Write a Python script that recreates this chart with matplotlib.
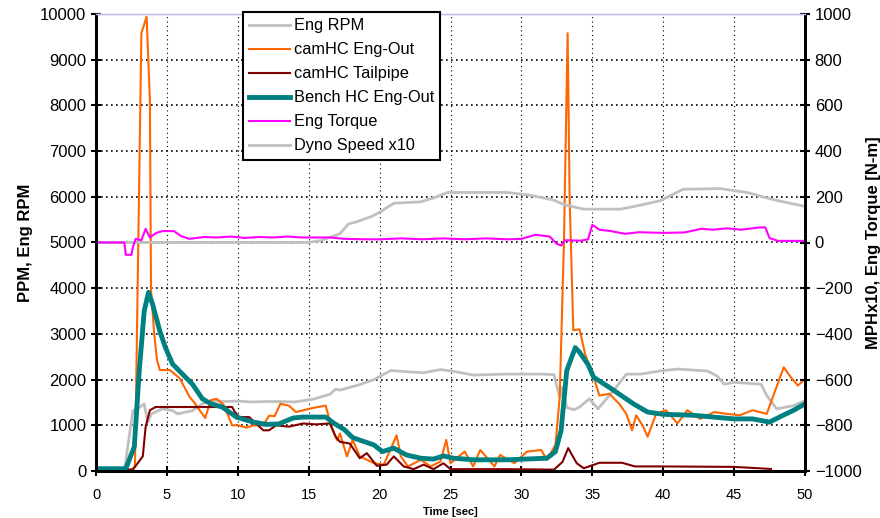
import matplotlib.pyplot as plt

plt.rcParams['font.family'] = ['Liberation Sans', 'DejaVu Sans']

# --- data ---
rpm_t = [0, 2.0, 2.6, 3.0, 3.4, 3.65, 3.9, 4.7, 5.4, 5.75, 6.8, 7.5, 8.1, 9, 10, 11, 12, 13, 14,
         15.3, 16.5, 16.9, 17.2, 18.5, 19.6, 20.8, 22, 23.1, 24.3, 25.4, 26.6, 29, 31.4, 32.3,
         32.7, 32.9, 33.2, 33.7, 34.1, 34.8, 35.4, 36.5, 37.4, 38.4, 39.8, 41, 43.1, 43.8,
         44.3, 45, 46.9, 47.3, 48, 49.2, 50]
rpm_v = [0, 0, 1320, 1380, 1470, 1070, 1250, 1360, 1320, 1250, 1320, 1470, 1540, 1520, 1530,
         1510, 1520, 1520, 1510, 1570, 1680, 1790, 1770, 1880, 2000, 2200, 2170, 2150, 2220,
         2170, 2100, 2120, 2120, 2110, 1610, 1830, 1390, 1340, 1400, 1580, 1360, 1760, 2120,
         2120, 2190, 2230, 2190, 2080, 1900, 1940, 1900, 1650, 1360, 1430, 1540]

eo_t = [0, 2.5, 2.75, 3.2, 3.57, 3.8, 3.88, 4.1, 4.3, 4.5, 5.2, 5.9, 6.6, 6.9, 7.7, 8.1, 8.5,
        9.0, 9.6, 10.0, 10.6, 11.1, 11.8, 12.2, 12.6, 13.0, 13.6, 14.1, 15.3, 16.2, 16.6,
        17.0, 17.2, 17.7, 18.1, 18.6, 19.6, 20.3, 21.2, 21.5, 22, 22.9, 23.6, 24.3, 24.7,
        25, 26, 26.6, 27.1, 28.1, 28.5, 29.5, 30.4, 31.4, 31.8, 32.4, 32.7, 33.0, 33.26,
        33.4, 33.66, 34.1, 34.5, 35.1, 35.5, 36.2, 36.9, 37.4, 37.8, 38.1, 38.6, 38.9, 39.5,
        40.2, 41, 41.7, 42.6, 43.6, 44.5, 45.4, 46.3, 47.3, 47.9, 48.5, 49, 49.5, 50]
eo_v = [30, 30, 100, 9580, 9940, 8120, 3960, 3020, 2430, 2210, 2210, 2030, 1620, 1510, 1160,
        1550, 1580, 1450, 1000, 1000, 950, 1000, 1000, 1210, 1200, 1470, 1430, 1290, 1380,
        1430, 965, 675, 820, 320, 680, 320, 170, 140, 780, 320, 100, 245, 100, 210, 680,
        170, 425, 100, 460, 100, 350, 170, 425, 460, 245, 570, 1610, 5000, 9580, 6000,
        3080, 3100, 2550, 2050, 1650, 1690, 1470, 1250, 890, 1220, 965, 750, 1250, 1330,
        1040, 1330, 1140, 1290, 1250, 1220, 1330, 1250, 1760, 2270, 2050, 1870, 2010]

tp_t = [0, 2.6, 3.3, 3.5, 3.8, 4.2, 9.6, 9.8, 10.1, 10.8, 11.8, 12.2, 12.7, 13.6, 14.6, 15.5,
        16.5, 16.9, 17.2, 17.9, 18.6, 19.1, 19.8, 20.5, 21, 21.7, 22.4, 23.1, 23.8, 24.5, 25,
        26.6, 29, 32.3, 32.9, 33.3, 33.9, 34.4, 35.5, 37.1, 38, 39.8, 45, 47.6]
tp_v = [30, 30, 320, 965, 1330, 1400, 1400, 1290, 1180, 1180, 890, 890, 1000, 970, 1040,
        1020, 1040, 750, 640, 600, 280, 390, 115, 140, 320, 100, 40, 140, 40, 170, 40, 40,
        40, 30, 200, 500, 170, 60, 180, 180, 100, 100, 90, 45]

bench_t = [0, 2.1, 2.7, 3.05, 3.4, 3.7, 4.0, 4.5, 4.9, 5.4, 6.1, 6.8, 7.5, 8.1, 8.9, 9.9, 11.1,
           12.0, 12.9, 13.9, 14.6, 16.2, 16.8, 17.5, 18.1, 19.6, 20.2, 21, 21.9, 22.9, 23.8,
           24.5, 25.2, 26.6, 29, 31.8, 32.4, 32.8, 33.2, 33.8, 34.1, 34.7, 35.1, 36.2, 37.9,
           38.9, 40, 42.1, 45, 46.3, 47.5, 48.2, 49.2, 50]
bench_v = [50, 50, 530, 2190, 3500, 3910, 3640, 3060, 2700, 2340, 2120, 1900, 1580, 1470, 1400,
           1180, 1070, 1020, 1030, 1160, 1180, 1180, 1040, 910, 730, 570, 425, 500, 350, 280,
           260, 330, 280, 245, 245, 280, 425, 890, 2200, 2700, 2600, 2330, 2050, 1830, 1470,
           1290, 1240, 1220, 1140, 1140, 1070, 1180, 1330, 1470]

torque_t = [0, 2.0, 2.1, 2.5, 2.6, 2.8, 3.2, 3.5, 3.8, 4.25, 4.7, 5.5, 6.0, 6.6, 7.6, 8.5, 9.5,
            10.5, 11.5, 12.5, 13.5, 14.5, 15.5, 16.5, 17.5, 19, 20, 21.5, 23, 24.5, 26, 27.5,
            29, 30, 31, 32, 32.5, 32.8, 33.1, 34.2, 34.7, 35.0, 35.5, 36.3, 37.3, 38.3, 40,
            41.5, 42.7, 43.5, 44.5, 45.5, 46.8, 47.2, 47.5, 48.1, 50]
torque_v = [0, 0, -54, -54, -20, 16, 10, 60, 22, 42, 50, 50, 28, 16, 24, 22, 26, 20, 24, 22, 26,
            22, 22, 22, 16, 14, 14, 18, 14, 18, 14, 18, 14, 16, 34, 26, -6, -13, 10, 8, 14, 77,
            56, 50, 38, 45, 42, 44, 60, 56, 62, 56, 66, 66, 19, 7, 7]

dyno_t = [0, 15, 15.9, 17.2, 17.8, 18.4, 19.4, 20, 21, 22.9, 23.9, 24.8, 29, 30.6, 32.2, 33.1,
          34.4, 37, 38.2, 39.8, 41.4, 44, 45.9, 47.8, 50]
dyno_v = [0, 0, 9, 38, 81, 91, 113, 132, 172, 178, 197, 219, 219, 207, 187, 164, 146, 146, 161,
          183, 233, 236, 219, 187, 158]

fig = plt.figure(figsize=(8.8, 5.18), dpi=100)
ax = fig.add_axes([96 / 880, 1 - 471 / 518, 709 / 880, 457 / 518])
ax2 = ax.twinx()

l1, = ax.plot(rpm_t, rpm_v, color='#C0C0C0', lw=2, label='Eng RPM')
l2, = ax.plot(eo_t, eo_v, color='#FF6600', lw=1.5, label='camHC Eng-Out')
l3, = ax.plot(tp_t, tp_v, color='#800000', lw=1.5, label='camHC Tailpipe')
l4, = ax.plot(bench_t, bench_v, color='#008080', lw=3.5, label='Bench HC Eng-Out')
l6, = ax2.plot(dyno_t, dyno_v, color='#C0C0C0', lw=2, label='Dyno Speed x10')
l5, = ax2.plot(torque_t, torque_v, color='#FF00FF', lw=1.5, label='Eng Torque')

ax.set_xlim(0, 50)
ax.set_ylim(0, 10000)
ax2.set_ylim(-1000, 1000)
ax.set_xticks(range(0, 51, 5))
ax.set_yticks(range(0, 10001, 1000))
ax2.set_yticks(range(-1000, 1001, 200))

ax.grid(axis='y', color='black', ls=(0, (1, 2)), lw=1.2)
ax.grid(axis='x', color='black', ls=(0, (1, 3)), lw=0.8)

for a in (ax, ax2):
    a.tick_params(direction='inout', length=7, width=1.5, labelsize=12)
    for s in ('left', 'right', 'bottom'):
        a.spines[s].set_linewidth(2)
    a.spines['top'].set_color('#C8C0F0')
    a.spines['top'].set_linewidth(1)
ax.tick_params(axis='x', labelsize=10.5, pad=9)

ax.set_xlabel('Time [sec]', fontsize=8, fontweight='bold', labelpad=3)
ax.set_ylabel('PPM, Eng RPM', fontsize=12, fontweight='bold', labelpad=5)
ax2.set_ylabel('MPHx10, Eng Torque [N-m]', fontsize=12, fontweight='bold', labelpad=3)

leg = ax2.legend(handles=[l1, l2, l3, l4, l5, l6], loc='upper left',
                 bbox_to_anchor=(0.207, 1.005), fontsize=11.8, frameon=True, fancybox=False,
                 handlelength=2.5, labelspacing=0.55, borderpad=0.4, handletextpad=0.2,
                 borderaxespad=0)
leg.get_frame().set_edgecolor('black')
leg.get_frame().set_linewidth(1.5)
leg.get_frame().set_alpha(1)

fig.savefig('out.png', dpi=100)
